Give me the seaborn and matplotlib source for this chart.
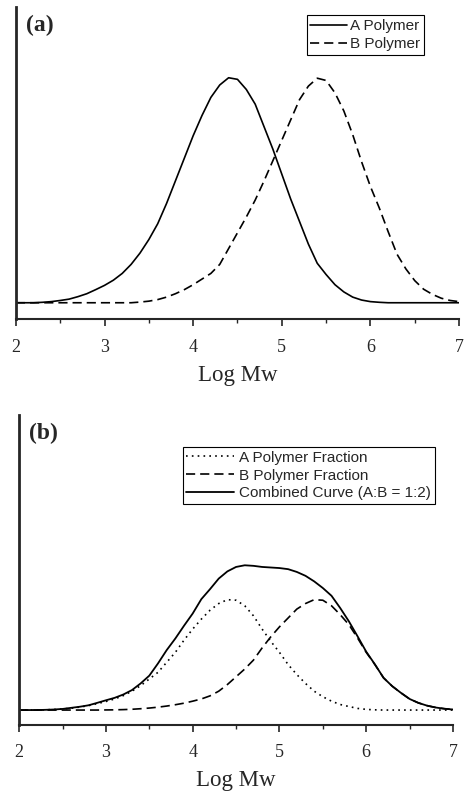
import numpy as np
import pandas as pd
import matplotlib
matplotlib.use("Agg")
import matplotlib.pyplot as plt
import seaborn as sns
from matplotlib.ticker import MultipleLocator

# Log Mw grid (step 0.1 from 2 to 7)
log_mw = [2.0, 2.1, 2.2, 2.3, 2.4, 2.5, 2.6, 2.7, 2.8, 2.9,
          3.0, 3.1, 3.2, 3.3, 3.4, 3.5, 3.6, 3.7, 3.8, 3.9,
          4.0, 4.1, 4.2, 4.3, 4.4, 4.5, 4.6, 4.7, 4.8, 4.9,
          5.0, 5.1, 5.2, 5.3, 5.4, 5.5, 5.6, 5.7, 5.8, 5.9,
          6.0, 6.1, 6.2, 6.3, 6.4, 6.5, 6.6, 6.7, 6.8, 6.9, 7.0]

# panel (a): polymer A distribution (normalised)
poly_a = [0.0, 0.0, 0.0, 0.002, 0.005, 0.01, 0.016, 0.027, 0.04, 0.058,
          0.077, 0.1, 0.13, 0.17, 0.22, 0.28, 0.35, 0.44, 0.54, 0.64,
          0.74, 0.83, 0.91, 0.965, 0.997, 0.99, 0.945, 0.88, 0.78, 0.68,
          0.57, 0.46, 0.36, 0.26, 0.175, 0.125, 0.08, 0.048, 0.025, 0.012,
          0.005, 0.002, 0.0, 0.0, 0.0, 0.0, 0.0, 0.0, 0.0, 0.0, 0.0]

# panel (a): polymer B distribution
poly_b = [0.0, 0.0, 0.0, 0.0, 0.0, 0.0, 0.0, 0.0, 0.0, 0.0,
          0.0, 0.0, 0.0, 0.0, 0.003, 0.007, 0.014, 0.025, 0.04, 0.058,
          0.08, 0.105, 0.13, 0.17, 0.24, 0.31, 0.38, 0.455, 0.54, 0.63,
          0.72, 0.81, 0.9, 0.96, 0.995, 0.985, 0.93, 0.85, 0.745, 0.625,
          0.515, 0.42, 0.315, 0.215, 0.15, 0.098, 0.06, 0.037, 0.02, 0.01, 0.005]

# panel (b): A fraction
frac_a = [0.0, 0.0, 0.0, 0.002, 0.005, 0.01, 0.016, 0.027, 0.04, 0.058,
          0.077, 0.1, 0.13, 0.17, 0.22, 0.28, 0.34, 0.43, 0.52, 0.63,
          0.73, 0.82, 0.9, 0.96, 0.995, 0.99, 0.94, 0.85, 0.73, 0.62,
          0.52, 0.41, 0.32, 0.24, 0.17, 0.12, 0.08, 0.05, 0.032, 0.015,
          0.006, 0.002, 0.0, 0.0, 0.0, 0.0, 0.0, 0.0, 0.0, 0.0, 0.0]

# panel (b): B fraction
frac_b = [0.0, 0.0, 0.0, 0.0, 0.0, 0.0, 0.0, 0.0, 0.0, 0.0,
          0.001, 0.002, 0.004, 0.007, 0.012, 0.018, 0.026, 0.036, 0.048, 0.062,
          0.08, 0.1, 0.128, 0.17, 0.23, 0.3, 0.37, 0.45, 0.56, 0.66,
          0.75, 0.83, 0.91, 0.96, 0.995, 0.99, 0.94, 0.86, 0.77, 0.65,
          0.52, 0.41, 0.29, 0.215, 0.155, 0.1, 0.065, 0.04, 0.023, 0.012, 0.005]

# panel (b): combined curve A:B = 1:2
combined = [0.0, 0.0, 0.0, 0.002, 0.005, 0.01, 0.02, 0.03, 0.043, 0.065,
            0.088, 0.11, 0.14, 0.18, 0.24, 0.31, 0.42, 0.54, 0.645, 0.76,
            0.87, 1.0, 1.09, 1.185, 1.25, 1.29, 1.305, 1.3, 1.29, 1.285,
            1.28, 1.27, 1.245, 1.21, 1.16, 1.1, 1.03, 0.92, 0.8, 0.665,
            0.526, 0.412, 0.29, 0.215, 0.155, 0.1, 0.065, 0.04, 0.023, 0.012, 0.005]

df_a = pd.DataFrame({"logmw": log_mw, "A": poly_a, "B": poly_b})
df_b = pd.DataFrame({"logmw": log_mw, "A": frac_a, "B": frac_b, "comb": combined})

sns.set_style("ticks")
plt.rcParams["font.family"] = ["Liberation Serif", "DejaVu Serif"]

fig = plt.figure(figsize=(4.67, 7.91), dpi=100)
ax1 = fig.add_axes([0.034, 0.597, 0.949, 0.394])
ax2 = fig.add_axes([0.041, 0.0834, 0.929, 0.392])

dash = (0, (5.5, 3))
dot = (0, (1, 2.5))

# panel (a)
sns.lineplot(data=df_a, x="logmw", y="A", ax=ax1, color="black", lw=1.2,
             linestyle="-", label="A Polymer")
sns.lineplot(data=df_a, x="logmw", y="B", ax=ax1, color="black", lw=1.2,
             linestyle=dash, label="B Polymer")
ax1.set_ylim(-0.071, 1.31)

# panel (b)
sns.lineplot(data=df_b, x="logmw", y="A", ax=ax2, color="black", lw=1.2,
             linestyle=dot, label="A Polymer Fraction")
sns.lineplot(data=df_b, x="logmw", y="B", ax=ax2, color="black", lw=1.2,
             linestyle=dash, label="B Polymer Fraction")
sns.lineplot(data=df_b, x="logmw", y="comb", ax=ax2, color="black", lw=1.3,
             linestyle="-", label="Combined Curve (A:B = 1:2)")
ax2.set_ylim(-0.135, 2.66)

settings = {
    ax1: dict(tag="(a)", leg=(0.921, 0.974), tickpad=9.5, labpad=6.5, hl=2.4, htp=0.2),
    ax2: dict(tag="(b)", leg=(0.958, 0.897), tickpad=8.5, labpad=6.5, hl=3.1, htp=0.35),
}
for ax, s in settings.items():
    ax.set_xlim(2, 7)
    ax.xaxis.set_major_locator(MultipleLocator(1))
    ax.xaxis.set_minor_locator(MultipleLocator(0.5))
    ax.set_yticks([])
    ax.set_ylabel("")
    ax.set_xlabel("Log Mw", fontsize=16.5, labelpad=s["labpad"])
    ax.tick_params(axis="x", which="major", length=5, width=1.2, labelsize=13,
                   pad=s["tickpad"])
    ax.tick_params(axis="x", which="minor", length=3, width=1.0)
    sns.despine(ax=ax)
    ax.spines["left"].set_linewidth(2.0)
    ax.spines["bottom"].set_linewidth(1.5)
    ax.text(0.022, 0.975, s["tag"], transform=ax.transAxes, fontsize=17,
            fontweight="bold", va="top", ha="left")
    leg = ax.legend(loc="upper right", bbox_to_anchor=s["leg"],
                    borderaxespad=0, fancybox=False, framealpha=1,
                    prop={"family": "Liberation Sans", "size": 11},
                    handlelength=s["hl"], handletextpad=s["htp"],
                    labelspacing=0.25, borderpad=0.25)
    leg.get_frame().set_edgecolor("black")
    leg.get_frame().set_linewidth(0.8)

fig.savefig("out.png", dpi=100)
